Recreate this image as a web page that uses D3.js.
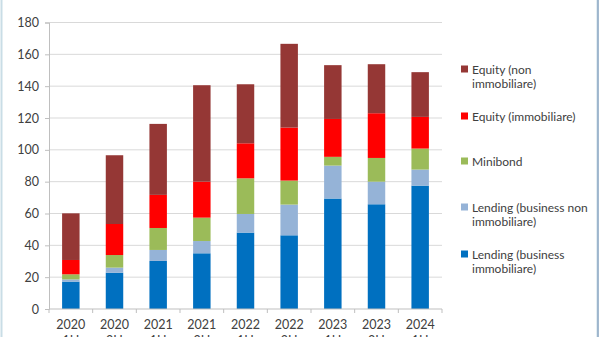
<!DOCTYPE html>
<html>
<head>
<meta charset="utf-8">
<script src="https://cdn.jsdelivr.net/npm/d3@7"></script>
<style>
  body { margin: 0; background: #fff; }
  svg text { font-family: Lato, "Open Sans", sans-serif; fill: #404040; }
</style>
</head>
<body>
<div id="plotDiv"></div>
<script>
var years = ["2020", "2020", "2021", "2021", "2022", "2022", "2023", "2023", "2024"];
var halves = ["1H", "2H", "1H", "2H", "1H", "2H", "1H", "2H", "1H"];
var seriesNames = ["Lending (business immobiliare)", "Lending (business non immobiliare)",
    "Minibond", "Equity (immobiliare)", "Equity (non immobiliare)"];
var lendingImmo = [17.2, 22.8, 30.2, 35.0, 48.0, 46.3, 69.4, 65.8, 77.5];
var lendingNonImmo = [1.4, 3.2, 6.9, 7.7, 11.7, 19.3, 20.7, 14.2, 10.1];
var minibond = [3.2, 7.9, 13.8, 14.7, 22.4, 15.1, 5.5, 14.9, 13.2];
var equityImmo = [9.0, 19.5, 20.8, 22.6, 22.0, 33.3, 23.8, 28.1, 19.9];
var equityNonImmo = [29.3, 43.2, 44.6, 60.6, 37.1, 52.6, 33.8, 30.8, 28.1];
var yTicks = [0, 20, 40, 60, 80, 100, 120, 140, 160, 180];

var colors = ["#0070c0", "#95b3d7", "#9bbb59", "#ff0000", "#953735"];
var legendLines = [
    ["Equity (non", "immobiliare)"],
    ["Equity (immobiliare)"],
    ["Minibond"],
    ["Lending (business non", "immobiliare)"],
    ["Lending (business", "immobiliare)"]
];
var legendColors = ["#953735", "#ff0000", "#9bbb59", "#95b3d7", "#0070c0"];
var legendY = [69, 116, 161, 207, 254];

var W = 600, H = 337;
var margin = { top: 22.5, right: 158, bottom: 28, left: 49 };
var width = W - margin.left - margin.right;
var height = H - margin.top - margin.bottom;

var svgRoot = d3.select("#plotDiv").append("svg").attr("width", W).attr("height", H);
// outer frame
svgRoot.append("rect").attr("x", 1.5).attr("y", -2).attr("width", 596).attr("height", H + 4)
    .attr("fill", "none").attr("stroke", "#c9dde6").attr("stroke-width", 2);
svgRoot.append("line").attr("x1", 598).attr("x2", 598).attr("y1", 0).attr("y2", H)
    .attr("stroke", "#8fa8c4").attr("stroke-width", 1.5);

var svg = svgRoot.append("g").attr("transform", "translate(" + margin.left + "," + margin.top + ")");

var idx = d3.range(years.length);
var xScale = d3.scaleBand().domain(idx).range([0, width]).paddingInner(0.6).paddingOuter(0.3);
var yScale = d3.scaleLinear().domain([0, 180]).range([height, 0]);

// gridlines
svg.selectAll(".grid").data(yTicks.slice(1)).enter().append("line")
    .attr("x1", 0).attr("x2", width)
    .attr("y1", function (d) { return yScale(d); }).attr("y2", function (d) { return yScale(d); })
    .attr("stroke", "#d9d9d9").attr("stroke-width", 1);

var yAxis = d3.axisLeft(yScale).tickValues(yTicks).tickSize(4).tickPadding(6);
var gy = svg.append("g").call(yAxis);
gy.select(".domain").attr("stroke", "#bfbfbf");
gy.selectAll(".tick line").attr("stroke", "#bfbfbf");
gy.selectAll("text").style("font-size", "12.5px").attr("fill", "#404040");

// stacked bars
var table = idx.map(function (i) {
    return { i: i, s0: lendingImmo[i], s1: lendingNonImmo[i], s2: minibond[i], s3: equityImmo[i], s4: equityNonImmo[i] };
});
var stack = d3.stack().keys(["s0", "s1", "s2", "s3", "s4"])(table);
svg.selectAll(".series").data(stack).enter().append("g")
    .attr("fill", function (d, k) { return colors[k]; })
    .selectAll("rect").data(function (d) { return d; }).enter().append("rect")
    .attr("x", function (d) { return xScale(d.data.i); })
    .attr("width", xScale.bandwidth())
    .attr("y", function (d) { return yScale(d[1]); })
    .attr("height", function (d) { return yScale(d[0]) - yScale(d[1]); });

// x axis
svg.append("line").attr("x1", 0).attr("x2", width).attr("y1", height).attr("y2", height)
    .attr("stroke", "#bfbfbf");
svg.selectAll(".xtick").data(d3.range(years.length + 1)).enter().append("line")
    .attr("x1", function (d) { return d * width / years.length; })
    .attr("x2", function (d) { return d * width / years.length; })
    .attr("y1", height).attr("y2", height + 4).attr("stroke", "#bfbfbf");
var xl = svg.selectAll(".xlab").data(idx).enter().append("text")
    .attr("text-anchor", "middle").style("font-size", "12.5px")
    .attr("x", function (d) { return xScale(d) + xScale.bandwidth() / 2; });
xl.append("tspan").attr("x", function (d) { return xScale(d) + xScale.bandwidth() / 2; })
    .attr("y", height + 20).text(function (d) { return years[d]; });
xl.append("tspan").attr("x", function (d) { return xScale(d) + xScale.bandwidth() / 2; })
    .attr("y", height + 36).text(function (d) { return halves[d]; });

// legend
var leg = svgRoot.selectAll(".leg").data(legendLines).enter().append("g")
    .attr("transform", function (d, k) { return "translate(461," + legendY[k] + ")"; });
leg.append("rect").attr("x", 0).attr("y", -3.5).attr("width", 7).attr("height", 7)
    .attr("fill", function (d, k) { return legendColors[k]; });
leg.each(function (lines) {
    var g = d3.select(this);
    lines.forEach(function (t, j) {
        g.append("text").attr("x", 11).attr("y", j * 14 + 4.5).style("font-size", "12px").text(t);
    });
});
</script>
</body>
</html>
